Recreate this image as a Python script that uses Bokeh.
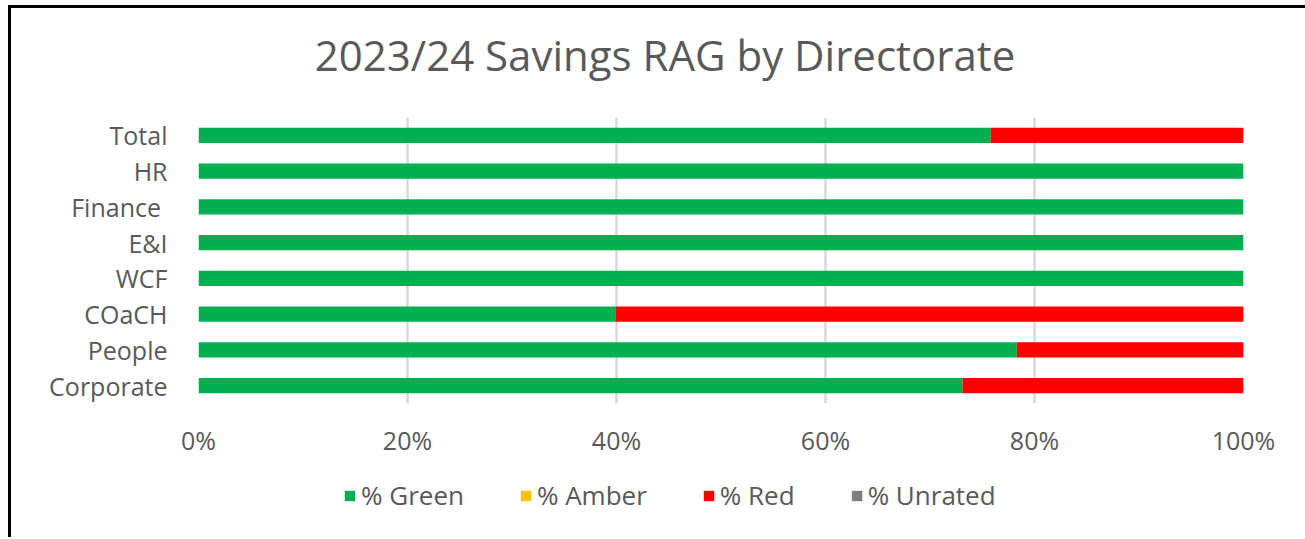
from bokeh.plotting import figure
from bokeh.models import Range1d, FactorRange, NumeralTickFormatter, Legend, LegendItem, FixedTicker, Label
from bokeh.layouts import column
from bokeh.embed import file_html
from bokeh.resources import INLINE

directorates = ["Corporate", "People", "COaCH", "WCF", "E&I", "Finance ", "HR", "Total"]
pct_green = [0.731, 0.783, 0.399, 1.0, 1.0, 1.0, 1.0, 0.758]
pct_amber = [0.0, 0.0, 0.0, 0.0, 0.0, 0.0, 0.0, 0.0]
pct_red = [0.269, 0.217, 0.601, 0.0, 0.0, 0.0, 0.0, 0.242]
pct_unrated = [0.0, 0.0, 0.0, 0.0, 0.0, 0.0, 0.0, 0.0]
series = ["% Green", "% Amber", "% Red", "% Unrated"]
colors = ["#00B050", "#FFC000", "#FF0000", "#7F7F7F"]
x_ticks = [0.0, 0.2, 0.4, 0.6, 0.8, 1.0]
title_text = "2023/24 Savings RAG by Directorate"

FONT = "Open Sans"
GREY = "#595959"
W = 1294
ML, MR = 187, 62

data = {"dir": directorates, "% Green": pct_green, "% Amber": pct_amber,
        "% Red": pct_red, "% Unrated": pct_unrated}


def strip(height, x_range, y_range):
    f = figure(width=W, height=height, output_backend="svg", toolbar_location=None,
               x_axis_location=None, y_axis_location=None,
               x_range=x_range, y_range=y_range,
               min_border_left=ML, min_border_right=MR, min_border_top=0, min_border_bottom=0)
    f.outline_line_color = None
    f.grid.grid_line_color = None
    f.border_fill_color = "white"
    f.background_fill_color = "white"
    return f


# ---- title strip ----
T = 90
tf = strip(T, Range1d(0, 1), Range1d(0, T))
tf.add_layout(Label(x=0.5, y=T - 46, text=title_text, text_align="center", text_baseline="middle",
                    x_offset=-56, text_font=FONT, text_font_size="42px", text_color=GREY))

# ---- main chart ----
p = figure(width=W, height=365, output_backend="svg", toolbar_location=None,
           y_range=FactorRange(factors=directorates), x_range=Range1d(0, 1),
           min_border_left=ML, min_border_right=MR, min_border_top=19, min_border_bottom=60)

renderers = p.hbar_stack(series, y="dir", height=0.42, color=colors, source=data, line_color=None)

p.outline_line_color = None
p.background_fill_color = "white"
p.border_fill_color = "white"

p.xaxis.ticker = FixedTicker(ticks=x_ticks)
p.xaxis.formatter = NumeralTickFormatter(format="0%")
p.xaxis.axis_line_color = None
p.xaxis.major_tick_line_color = None
p.xaxis.minor_tick_line_color = None
p.xaxis.major_label_text_font = FONT
p.xaxis.major_label_text_font_size = "25px"
p.xaxis.major_label_text_color = GREY
p.xaxis.major_label_standoff = 13

p.yaxis.axis_line_color = None
p.yaxis.major_tick_line_color = None
p.yaxis.minor_tick_line_color = None
p.yaxis.major_label_text_font = FONT
p.yaxis.major_label_text_font_size = "25px"
p.yaxis.major_label_text_color = GREY
p.yaxis.major_label_standoff = 25

p.ygrid.grid_line_color = None
p.xgrid.grid_line_color = "#D9D9D9"
p.xgrid.grid_line_width = 2.5

# ---- legend strip (same series; renderers hidden, only their legend swatches show) ----
lg = strip(74, Range1d(0, 1), FactorRange(factors=directorates))
lg_renderers = lg.hbar_stack(series, y="dir", height=0.42, color=colors, source=data, line_color=None)
for r in lg_renderers:
    r.visible = False

legend = Legend(items=[LegendItem(label=s, renderers=[r]) for s, r in zip(series, lg_renderers)],
                orientation="horizontal", location=(145, 24),
                label_text_font=FONT, label_text_font_size="26px", label_text_color=GREY,
                glyph_width=13, glyph_height=13, label_standoff=5, spacing=55,
                border_line_color=None, background_fill_alpha=0, padding=0, margin=0,
                inactive_fill_alpha=0)
lg.add_layout(legend, "center")

layout = column(tf, p, lg, spacing=0)
layout.styles = {"border-left": "3px solid black", "border-top": "3px solid black",
                 "margin-left": "8px", "margin-top": "5px"}

open("out.html", "w").write(file_html(layout, INLINE))
